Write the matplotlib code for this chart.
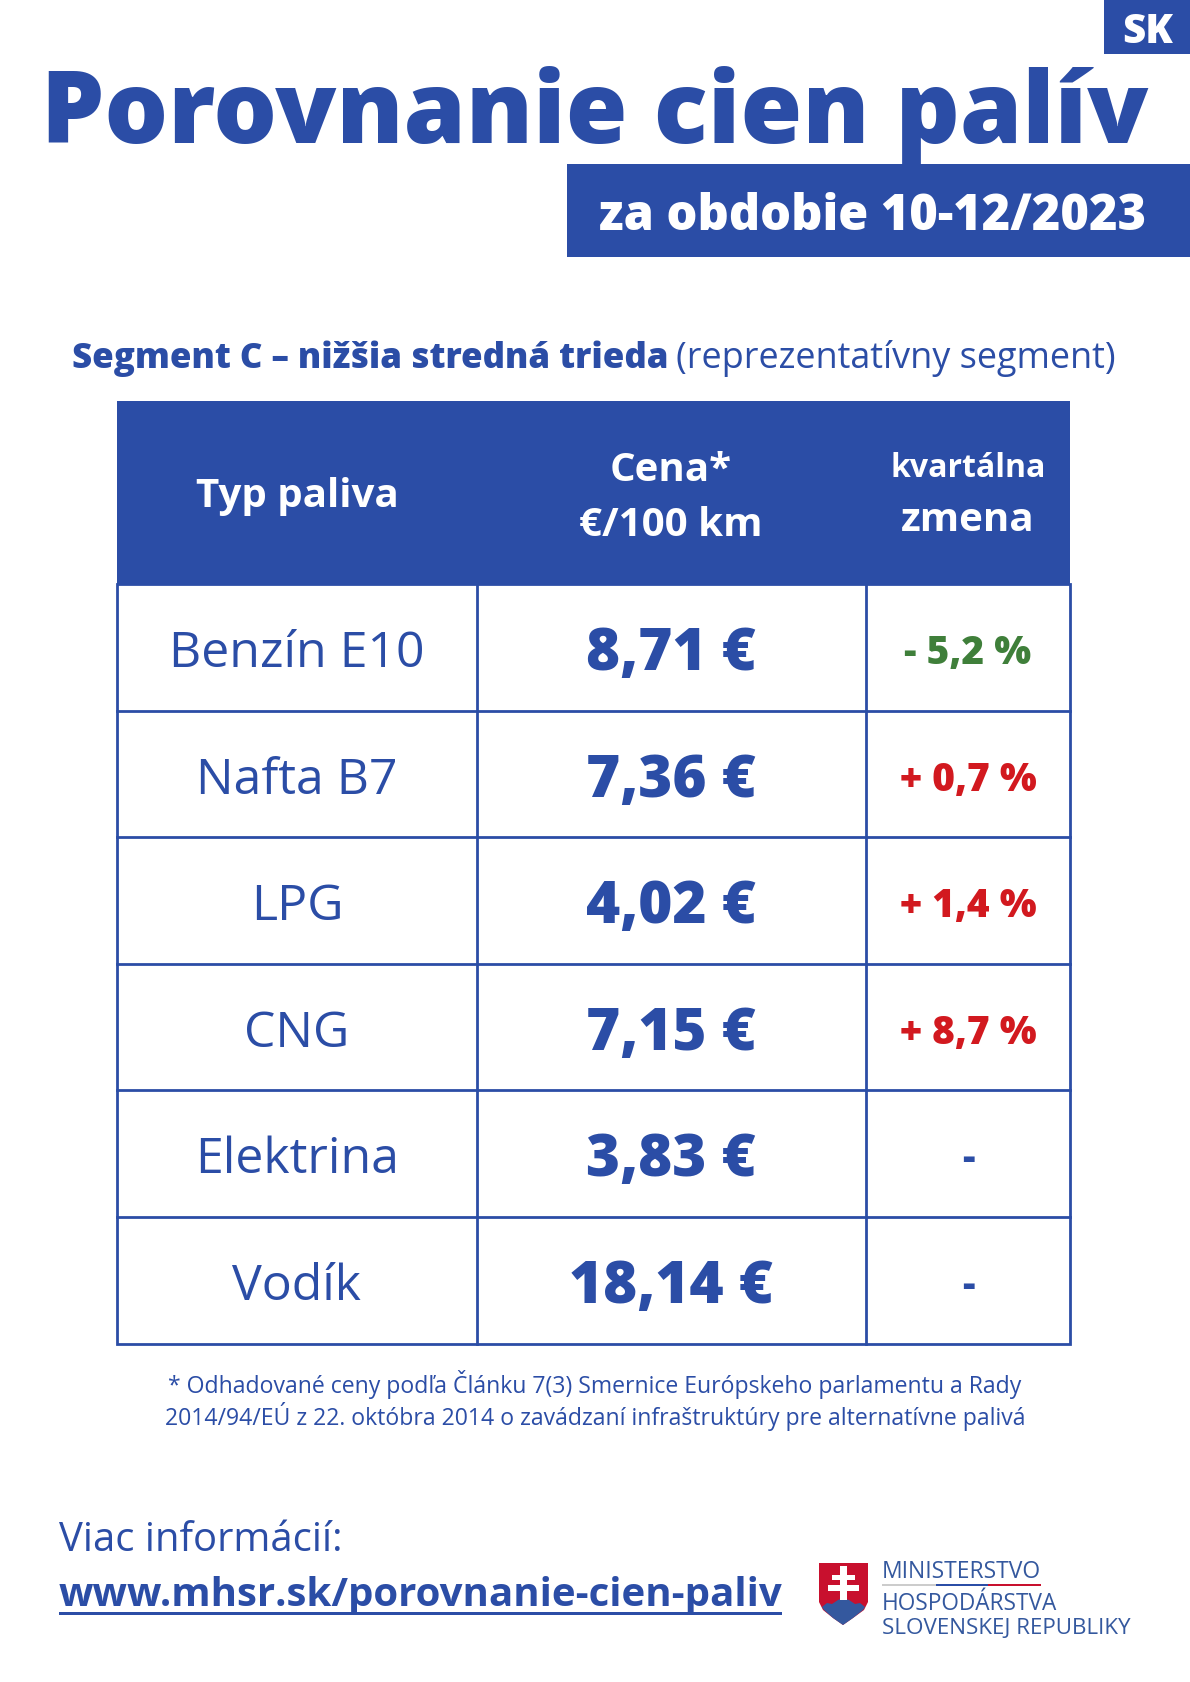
"""Porovnanie cien palív - plagát s tabuľkou cien, kreslený v pixelových súradniciach."""
import matplotlib
matplotlib.use("Agg")
import matplotlib.pyplot as plt
from matplotlib.patches import Polygon, Rectangle

BLUE = "#2B4DA6"
GREEN = "#3F7F3A"
RED = "#D2191F"

fuels = ["Benzín E10", "Nafta B7", "LPG", "CNG", "Elektrina", "Vodík"]
prices = ["8,71 €", "7,36 €", "4,02 €", "7,15 €", "3,83 €", "18,14 €"]
changes = ["- 5,2 %", "+ 0,7 %", "+ 1,4 %", "+ 8,7 %", "-", "-"]
change_colors = [GREEN, RED, RED, RED, BLUE, BLUE]

plt.rcParams["font.family"] = ["Open Sans", "DejaVu Sans"]

fig = plt.figure(figsize=(11.9, 16.82), dpi=100)
ax = fig.add_axes([0, 0, 1, 1])
ax.set_xlim(0, 1190)
ax.set_ylim(1682, 0)
ax.axis("off")


def rect(x0, y0, x1, y1, **kw):
    ax.add_patch(Rectangle((x0, y0), x1 - x0, y1 - y0, **kw))


def label(x, y, s, size, weight="normal", color=BLUE, ha="center"):
    return ax.text(x, y, s, fontsize=size, fontweight=weight, color=color,
                   ha=ha, va="baseline")


# hlavicka
rect(1104, 0, 1190, 54, facecolor=BLUE, edgecolor="none")
label(1148, 43, "SK", 29, 800, "white")
label(41, 143, "Porovnanie cien palív", 72.2, 800, ha="left")
rect(567, 164, 1190, 257, facecolor=BLUE, edgecolor="none")
label(873, 230, "za obdobie 10-12/2023", 35, 800, "white")

# segment - tucna a normalna cast za sebou
t = label(72, 368, "Segment C – nižšia stredná trieda", 25.1, 800, ha="left")
fig.canvas.draw()
box = t.get_window_extent()
label(box.x1 + 8, 368, "(reprezentatívny segment)", 25.9, ha="left")

# tabulka
left, right = 117, 1070
col1, col2 = 477, 866
top, head_bottom = 401, 584
row_h = 126.6
bottom = head_bottom + row_h * len(fuels)

rect(left, top, right, head_bottom, facecolor=BLUE, edgecolor="none")
label(297, 507, "Typ paliva", 29, "bold", "white")
label(671, 481, "Cena*", 29, "bold", "white")
label(671, 536, "€/100 km", 29, "bold", "white")
label(968, 477, "kvartálna", 23, "bold", "white")
label(968, 531, "zmena", 29, "bold", "white")

rect(left, head_bottom, right, bottom, facecolor="none", edgecolor=BLUE, linewidth=2)
for x in (col1, col2):
    ax.plot([x, x], [head_bottom, bottom], color=BLUE, linewidth=2)
for i, (fuel, price, change, c) in enumerate(zip(fuels, prices, changes, change_colors)):
    y = head_bottom + row_h * i
    if i:
        ax.plot([left, right], [y, y], color=BLUE, linewidth=2)
    base = y + 83
    label(297, base, fuel, 36)
    label(671, base + 3, price, 42, 800)
    label(968, base - 3, change, 28, 800, c)

# poznamka
label(595, 1393, "* Odhadované ceny podľa Článku 7(3) Smernice Európskeho parlamentu a Rady", 16.6)
label(595, 1425, "2014/94/EÚ z 22. októbra 2014 o zavádzaní infraštruktúry pre alternatívne palivá", 16.6)

# odkaz
label(59, 1551, "Viac informácií:", 28.8, ha="left")
label(59, 1606, "www.mhsr.sk/porovnanie-cien-paliv", 29, "bold", ha="left")
rect(59, 1612, 782, 1615, facecolor=BLUE, edgecolor="none")

# logo ministerstva
shield = [(819, 1563), (868, 1563), (868, 1602), (864, 1610), (853, 1618), (843, 1625),
          (833, 1618), (823, 1610), (819, 1602)]
ax.add_patch(Polygon(shield, closed=True, facecolor="#C8102E", edgecolor="none"))
hills = [(822, 1607), (827, 1603), (832, 1604), (838, 1600), (843, 1598), (849, 1600),
         (855, 1604), (860, 1603), (865, 1607), (863, 1610), (853, 1618), (843, 1625),
         (833, 1618), (824, 1610)]
ax.add_patch(Polygon(hills, closed=True, facecolor="#34589E", edgecolor="none"))
rect(840, 1566, 847, 1600, facecolor="white", edgecolor="none")
rect(832, 1575, 855, 1580, facecolor="white", edgecolor="none")
rect(828, 1585, 859, 1591, facecolor="white", edgecolor="none")

label(882, 1578, "MINISTERSTVO", 16.5, ha="left", color="#34589E")
rect(882, 1584, 936, 1586, facecolor="#CCCCCC", edgecolor="none")
rect(936, 1584, 988, 1586, facecolor=BLUE, edgecolor="none")
rect(988, 1584, 1041, 1586, facecolor="#C8102E", edgecolor="none")
label(882, 1610, "HOSPODÁRSTVA", 16.3, ha="left", color="#34589E")
label(882, 1634, "SLOVENSKEJ REPUBLIKY", 16.1, ha="left", color="#34589E")

fig.savefig("out.png", dpi=100, facecolor="white")
